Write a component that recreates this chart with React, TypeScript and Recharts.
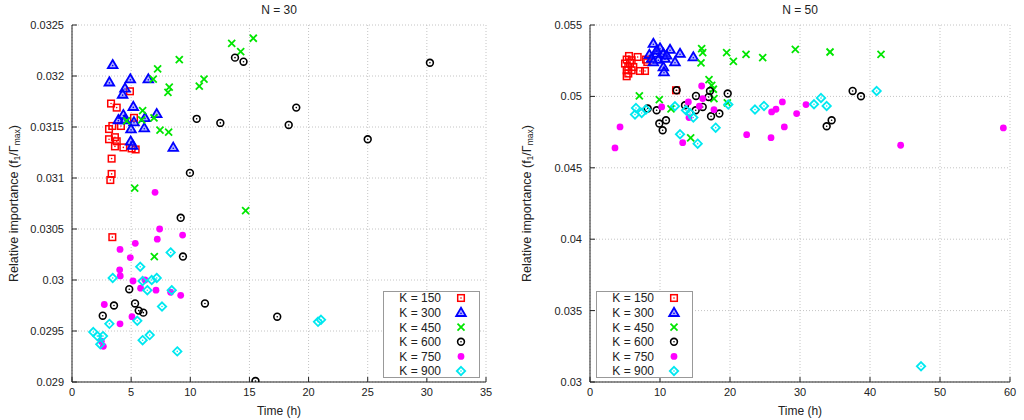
import React from 'react';
import {
  ScatterChart,
  Scatter,
  XAxis,
  YAxis,
  CartesianGrid,
  Legend,
  Label,
} from 'recharts';

type Pt = [number, number];

const SERIES_NAMES = ['K = 150', 'K = 300', 'K = 450', 'K = 600', 'K = 750', 'K = 900'];

// N = 30 panel
const N30_K150: Pt[] = [
  [4.9, 0.03185], [3.3, 0.03173], [3.78, 0.03169], [5.24, 0.03159], [3.41, 0.03151], [3.13, 0.03148],
  [4.14, 0.03151], [3.63, 0.0314], [3.13, 0.03138], [3.78, 0.03136], [3.63, 0.03131], [4.34, 0.0313],
  [5.04, 0.03129], [5.38, 0.03128], [3.35, 0.03119], [3.35, 0.03104], [3.24, 0.03098], [3.41, 0.03042],
];
const N30_K300: Pt[] = [
  [3.44, 0.03211], [3.16, 0.03194], [4.93, 0.03197], [6.45, 0.03197], [4.48, 0.03188], [4.28, 0.03182],
  [5.18, 0.0317], [7.16, 0.03163], [4.34, 0.03162], [3.92, 0.03157], [4.48, 0.03157], [5.24, 0.03155],
  [6.17, 0.03159], [4.99, 0.03148], [6.11, 0.03149], [4.96, 0.03136], [5.13, 0.03132], [8.56, 0.0313],
];
const N30_K450: Pt[] = [
  [15.33, 0.03237], [13.5, 0.03232], [14.26, 0.03224], [9.07, 0.03216], [7.24, 0.03207], [6.87, 0.03197],
  [11.16, 0.03197], [10.76, 0.0319], [8.22, 0.03189], [8.11, 0.03184], [5.97, 0.03166], [6.93, 0.03159],
  [5.89, 0.03157], [4.62, 0.03156], [7.44, 0.03147], [8.17, 0.03145], [5.3, 0.0309], [14.68, 0.03068],
  [6.96, 0.03023],
];
const N30_K600: Pt[] = [
  [13.78, 0.03218], [14.5, 0.03214], [30.26, 0.03213], [18.96, 0.03169], [18.32, 0.03152], [25.0, 0.03138],
  [10.54, 0.03158], [12.54, 0.03154], [9.97, 0.03105], [17.35, 0.02964], [15.51, 0.02901], [9.19, 0.03061],
  [9.38, 0.03023], [4.84, 0.02991], [3.55, 0.02975], [5.33, 0.02977], [5.64, 0.0297], [6.03, 0.02968],
  [2.6, 0.02965], [11.24, 0.02977],
];
const N30_K750: Pt[] = [
  [7.02, 0.03086], [7.41, 0.0305], [9.35, 0.03044], [7.21, 0.0304], [5.35, 0.03036], [4.06, 0.0303],
  [4.93, 0.03022], [4.03, 0.0301], [4.08, 0.03004], [5.16, 0.02999], [6.17, 0.03], [5.8, 0.02992],
  [7.1, 0.0299], [8.34, 0.02988], [9.19, 0.02985], [2.73, 0.02976], [5.07, 0.02964], [4.06, 0.02957],
  [2.48, 0.0294], [2.65, 0.02935],
];
const N30_K900: Pt[] = [
  [8.34, 0.03027], [5.77, 0.03013], [3.44, 0.03002], [5.97, 0.02999], [6.74, 0.03], [7.16, 0.03002],
  [6.37, 0.0299], [8.43, 0.0299], [7.61, 0.02974], [3.16, 0.02957], [5.52, 0.0296], [1.8, 0.02949],
  [2.14, 0.02945], [2.62, 0.02945], [2.39, 0.02937], [5.97, 0.02941], [6.57, 0.02946], [8.9, 0.0293],
  [20.8, 0.02959], [21.05, 0.02961],
];

// N = 50 panel
const N50_K150: Pt[] = [
  [5.57, 0.05283], [6.81, 0.05276], [5.24, 0.05258], [5.95, 0.05253], [5.0, 0.0523], [5.71, 0.05234],
  [8.0, 0.05258], [8.19, 0.05241], [5.47, 0.05206], [6.19, 0.05206], [5.24, 0.05183], [5.95, 0.05183],
  [7.14, 0.05178], [7.86, 0.05178], [5.47, 0.0516], [5.24, 0.05141], [12.29, 0.05043],
];
const N50_K300: Pt[] = [
  [9.05, 0.0537], [10.0, 0.05339], [11.43, 0.05328], [12.86, 0.053], [8.48, 0.05293], [9.52, 0.053],
  [10.48, 0.053], [14.76, 0.05276], [8.81, 0.05265], [9.76, 0.05258], [10.71, 0.05265], [12.14, 0.05241],
  [9.05, 0.05241], [10.48, 0.05206], [10.57, 0.05171], [9.52, 0.05323], [10.95, 0.05288],
];
const N50_K450: Pt[] = [
  [15.95, 0.05335], [16.1, 0.05307], [15.86, 0.05234], [19.52, 0.05307], [20.48, 0.05246], [22.29, 0.05295],
  [24.67, 0.05272], [29.33, 0.0533], [34.29, 0.05311], [41.57, 0.05295], [7.05, 0.05003], [9.9, 0.04978],
  [11.57, 0.04912], [17.0, 0.05118], [17.38, 0.05078], [17.62, 0.0505], [17.71, 0.04985], [19.62, 0.04954],
  [14.38, 0.04709],
];
const N50_K600: Pt[] = [
  [8.24, 0.04915], [9.52, 0.04903], [9.9, 0.0481], [10.86, 0.04833], [10.38, 0.04763], [12.38, 0.05043],
  [13.57, 0.04938], [15.14, 0.05003], [15.1, 0.04903], [16.1, 0.04926], [17.14, 0.05038], [16.95, 0.04996],
  [17.29, 0.04861], [18.48, 0.0488], [19.67, 0.0502], [37.52, 0.05038], [38.71, 0.05001], [33.81, 0.04791],
  [34.52, 0.04833],
];
const N50_K750: Pt[] = [
  [3.57, 0.04639], [4.29, 0.04786], [10.24, 0.04926], [14.05, 0.04961], [15.95, 0.05073], [16.1, 0.04985],
  [15.62, 0.04931], [17.71, 0.04907], [14.14, 0.04852], [13.24, 0.04676], [22.38, 0.04732], [25.86, 0.04711],
  [25.95, 0.04891], [26.57, 0.0491], [27.48, 0.04961], [27.76, 0.04786], [29.52, 0.0488], [30.86, 0.04943],
  [44.38, 0.04658], [59.05, 0.04779],
];
const N50_K900: Pt[] = [
  [6.57, 0.04919], [6.43, 0.04873], [7.38, 0.04884], [8.0, 0.04908], [12.14, 0.04931], [13.71, 0.04903],
  [14.29, 0.04884], [14.76, 0.04852], [12.86, 0.04735], [15.38, 0.04669], [17.95, 0.04781], [19.76, 0.04943],
  [23.57, 0.04908], [24.86, 0.04933], [32.0, 0.04945], [33.0, 0.04989], [33.81, 0.04933], [40.95, 0.05038],
  [47.29, 0.0311],
];

const N30_X_TICKS = [0, 5, 10, 15, 20, 25, 30, 35];
const N30_Y_TICKS = [0.029, 0.0295, 0.03, 0.0305, 0.031, 0.0315, 0.032, 0.0325];
const N50_X_TICKS = [0, 10, 20, 30, 40, 50, 60];
const N50_Y_TICKS = [0.03, 0.035, 0.04, 0.045, 0.05, 0.055];

const FONT = '"Liberation Sans", Arial, sans-serif';
const KINDS = ['square', 'triangle', 'cross', 'ring', 'dot', 'diamond'];
const COLORS = ['#ff0000', '#0000ff', '#00e600', '#000000', '#ff00ff', '#00e8f0'];

function Marker({ kind, cx, cy }: { kind: string; cx: number; cy: number }) {
  if (cx == null || cy == null) return null;
  switch (kind) {
    case 'square':
      return (
        <g>
          <rect x={cx - 3.3} y={cy - 3.3} width={6.6} height={6.6} fill="none" stroke={COLORS[0]} strokeWidth={1.5} />
          <circle cx={cx} cy={cy} r={0.8} fill={COLORS[0]} />
        </g>
      );
    case 'triangle':
      return (
        <g>
          <polygon
            points={`${cx},${cy - 4.8} ${cx + 4.8},${cy + 3.4} ${cx - 4.8},${cy + 3.4}`}
            fill="rgba(60,60,255,0.4)"
            stroke={COLORS[1]}
            strokeWidth={1.8}
          />
          <circle cx={cx} cy={cy + 0.8} r={0.8} fill={COLORS[1]} />
        </g>
      );
    case 'cross':
      return (
        <g stroke={COLORS[2]} strokeWidth={1.8}>
          <line x1={cx - 3.5} y1={cy - 3.5} x2={cx + 3.5} y2={cy + 3.5} />
          <line x1={cx - 3.5} y1={cy + 3.5} x2={cx + 3.5} y2={cy - 3.5} />
        </g>
      );
    case 'ring':
      return (
        <g>
          <circle cx={cx} cy={cy} r={3.4} fill="none" stroke={COLORS[3]} strokeWidth={1.6} />
          <circle cx={cx} cy={cy} r={0.8} fill={COLORS[3]} />
        </g>
      );
    case 'dot':
      return <circle cx={cx} cy={cy} r={3.4} fill={COLORS[4]} />;
    default:
      return (
        <g>
          <polygon
            points={`${cx},${cy - 4.2} ${cx + 4.2},${cy} ${cx},${cy + 4.2} ${cx - 4.2},${cy}`}
            fill="none"
            stroke={COLORS[5]}
            strokeWidth={1.8}
          />
          <circle cx={cx} cy={cy} r={0.8} fill={COLORS[5]} />
        </g>
      );
  }
}

function LegendBox() {
  const rowH = 14.6;
  return (
    <svg width={97} height={87} style={{ display: 'block' }}>
      <rect x={0.5} y={0.5} width={96} height={86} fill="#fff" stroke="#999" strokeWidth={1} />
      {SERIES_NAMES.map((name, i) => (
        <g key={name}>
          <text x={58} y={7 + i * rowH + 4.3} textAnchor="end" fontSize={12} fill="#222" fontFamily={FONT}>
            {name}
          </text>
          <Marker kind={KINDS[i]} cx={78} cy={7 + i * rowH} />
        </g>
      ))}
    </svg>
  );
}

function YTitle(props: any) {
  const vb = props.viewBox || {};
  const x = vb.x + props.xOffset;
  const y = vb.y + vb.height / 2;
  return (
    <text
      x={x}
      y={y}
      transform={`rotate(-90, ${x}, ${y})`}
      textAnchor="middle"
      dominantBaseline="central"
      fontSize={12.5}
      fill="#222"
      fontFamily={FONT}
    >
      Relative importance (f
      <tspan fontSize={8.5} dy={3}>1</tspan>
      <tspan dy={-3}>/Γ</tspan>
      <tspan fontSize={8.5} dy={3}>max</tspan>
      <tspan dy={-3}>)</tspan>
    </text>
  );
}

const toXY = (pts: Pt[]) => pts.map(([x, y]) => ({ x, y }));

interface PanelProps {
  series: Pt[][];
  xTicks: number[];
  yTicks: number[];
  width: number;
  yAxisWidth: number;
  yTitleX: number;
  legendLeft: number;
}

function Panel({ series, xTicks, yTicks, width, yAxisWidth, yTitleX, legendLeft }: PanelProps) {
  const xDomain = [xTicks[0], xTicks[xTicks.length - 1]];
  const yDomain = [yTicks[0], yTicks[yTicks.length - 1]];
  const tickStyle = { fontSize: 11, fill: '#222', fontFamily: FONT };
  return (
    <ScatterChart width={width} height={420} margin={{ top: 25, right: 14, bottom: 0, left: 0 }}>
      <CartesianGrid stroke="#c4c4c4" strokeDasharray="1 2" horizontalValues={yTicks} verticalValues={xTicks} />
      <XAxis
        type="number"
        dataKey="x"
        domain={xDomain}
        ticks={xTicks}
        allowDataOverflow
        height={38}
        tick={tickStyle}
        tickSize={-5}
        tickMargin={11}
        stroke="#222"
      >
        <Label value="Time (h)" position="insideBottom" offset={5} style={{ fontSize: 12, fill: '#222', fontFamily: FONT }} />
      </XAxis>
      <XAxis
        xAxisId="top"
        orientation="top"
        type="number"
        domain={xDomain}
        ticks={xTicks}
        height={0}
        tickFormatter={() => ''}
        tickSize={-5}
        stroke="#222"
      />
      <YAxis
        type="number"
        dataKey="y"
        domain={yDomain}
        ticks={yTicks}
        allowDataOverflow
        width={yAxisWidth}
        tick={tickStyle}
        tickSize={-5}
        tickMargin={13}
        tickFormatter={(v: number) => String(v)}
        stroke="#222"
        label={{ content: (p: any) => <YTitle {...p} xOffset={yTitleX} /> }}
      />
      <YAxis
        yAxisId="right"
        orientation="right"
        type="number"
        domain={yDomain}
        ticks={yTicks}
        width={0}
        tickFormatter={() => ''}
        tickSize={-5}
        stroke="#222"
      />
      {series.map((pts, i) => (
        <Scatter
          key={SERIES_NAMES[i]}
          name={SERIES_NAMES[i]}
          data={toXY(pts)}
          isAnimationActive={false}
          shape={(p: any) => <Marker kind={KINDS[i]} cx={p.cx} cy={p.cy} />}
        />
      ))}
      <Legend
        layout="vertical"
        align="center"
        verticalAlign="middle"
        content={() => <LegendBox />}
        wrapperStyle={{ left: legendLeft, top: 291, width: 97, height: 87 }}
      />
    </ScatterChart>
  );
}

export default function App() {
  const titleStyle: React.CSSProperties = {
    position: 'absolute',
    top: 3,
    fontSize: 12,
    fontFamily: FONT,
    color: '#222',
    textAlign: 'center',
    width: 200,
  };
  return (
    <div style={{ position: 'absolute', left: 0, top: 0, width: 1024, height: 420, background: '#fff' }}>
      <div style={{ position: 'absolute', left: 0, top: 0 }}>
        <Panel
          series={[N30_K150, N30_K300, N30_K450, N30_K600, N30_K750, N30_K900]}
          xTicks={N30_X_TICKS}
          yTicks={N30_Y_TICKS}
          width={500}
          yAxisWidth={72}
          yTitleX={14}
          legendLeft={383}
        />
      </div>
      <div style={{ position: 'absolute', left: 512, top: 0 }}>
        <Panel
          series={[N50_K150, N50_K300, N50_K450, N50_K600, N50_K750, N50_K900]}
          xTicks={N50_X_TICKS}
          yTicks={N50_Y_TICKS}
          width={512}
          yAxisWidth={78}
          yTitleX={15}
          legendLeft={84}
        />
      </div>
      <div style={{ ...titleStyle, left: 179 }}>N = 30</div>
      <div style={{ ...titleStyle, left: 700 }}>N = 50</div>
    </div>
  );
}
